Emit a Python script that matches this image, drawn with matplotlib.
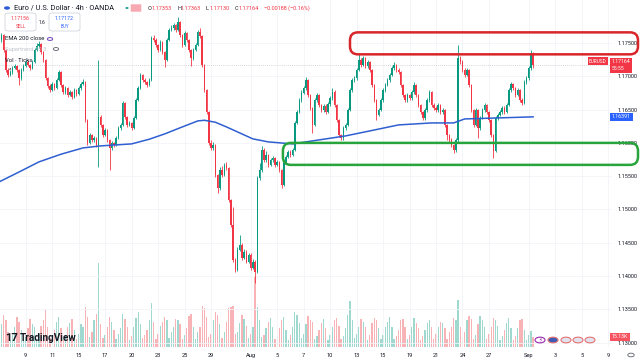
import numpy as np
import matplotlib.pyplot as plt
from matplotlib.patches import FancyBboxPatch, Circle
from matplotlib.transforms import blended_transform_factory, IdentityTransform

plt.rcParams['font.family'] = ['Roboto', 'DejaVu Sans']

# EURUSD 4h candles, prices in points: price = 1 + value / 100000
first_open = 17500
close_pts = [
    17545, 17620, 17395, 17095, 17020, 17065, 17125, 17155, 17095, 16975,
    17095, 17155, 17215, 17170, 17125, 17215, 17395, 17455, 17485, 17365,
    17245, 16975, 16855, 16795, 16885, 16825, 16945, 17065, 16870, 16765,
    16825, 16720, 16765, 16690, 16795, 16735, 16825, 16885, 16915, 16345,
    16000, 16120, 16045, 16075, 15970, 16390, 16270, 16120, 16195, 16045,
    15925, 16000, 15970, 16075, 16225, 16270, 16600, 16390, 16270, 16300,
    16225, 16375, 16645, 16825, 17020, 16945, 16915, 16870, 16945, 17575,
    17545, 17470, 17395, 17515, 17365, 17245, 17545, 17695, 17725, 17770,
    17695, 17815, 17620, 17470, 17650, 17545, 17395, 17275, 17395, 17470,
    17665, 17605, 17170, 16795, 16465, 16000, 15925, 15970, 15520, 15325,
    15595, 15520, 15670, 15625, 15145, 14770, 14245, 14095, 14395, 14470,
    14275, 14365, 14215, 14320, 14125, 14215, 14065, 15475, 15595, 15895,
    15745, 15820, 15670, 15745, 15775, 15670, 15715, 15595, 15370, 15715,
    15790, 15865, 15820, 15895, 16300, 16465, 16645, 16750, 16825, 16945,
    16720, 16525, 16270, 16645, 16720, 16570, 16495, 16555, 16465, 16585,
    16675, 16765, 16570, 16345, 16120, 16075, 16225, 16270, 16495, 16795,
    16945, 16975, 17095, 17245, 17170, 17275, 17155, 17215, 17095, 16870,
    16645, 16420, 16495, 16645, 16795, 16870, 16945, 17020, 17125, 17170,
    17095, 17065, 16870, 16720, 16645, 16720, 16675, 16765, 16870, 16720,
    16570, 16465, 16375, 16495, 16645, 16765, 16570, 16525, 16495, 16570,
    16465, 16495, 16270, 16120, 16045, 15970, 15895, 16045, 17275, 17215,
    17095, 17020, 17095, 16870, 16495, 16270, 16495, 16225, 16375, 16495,
    16570, 16465, 16345, 16120, 15880, 16375, 16420, 16465, 16525, 16465,
    16570, 16795, 16885, 16825, 16720, 16795, 16645, 16600, 16915, 16975,
    17125, 17353, 17164]
high_pts = [
    17580, 17650, 17640, 17410, 17120, 17100, 17150, 17190, 17170, 17110,
    17120, 17180, 17250, 17240, 17190, 17240, 17420, 17500, 17530, 17500,
    17380, 17260, 16990, 16880, 16920, 16900, 16970, 17100, 17080, 16890,
    16850, 16840, 16800, 16780, 16820, 16810, 16850, 16910, 16960, 16930,
    16360, 16150, 16140, 16110, 16090, 17245, 16420, 16290, 16230, 16210,
    16060, 16030, 16020, 16100, 16250, 16300, 16630, 16620, 16410, 16330,
    16320, 16400, 16670, 16850, 17050, 17040, 16970, 16930, 16970, 17600,
    17620, 17570, 17490, 17540, 17530, 17380, 17570, 17720, 17770, 17800,
    17790, 17890, 17830, 17640, 17680, 17670, 17560, 17410, 17420, 17500,
    17700, 17720, 17620, 17190, 16810, 16480, 16040, 16010, 15990, 15540,
    15640, 15660, 15700, 15720, 15640, 15160, 15040, 14270, 14430, 14620,
    14490, 14400, 14390, 14350, 14340, 14250, 14240, 15500, 15700, 15960,
    15920, 15880, 15840, 15780, 15810, 15790, 15750, 15730, 15610, 15740,
    15820, 15890, 15890, 15920, 16330, 16500, 16680, 16790, 16860, 16990,
    16960, 16740, 16540, 16670, 16750, 16740, 16590, 16590, 16580, 16610,
    16710, 16830, 16790, 16590, 16360, 16140, 16250, 16300, 16520, 16820,
    16980, 17010, 17130, 17350, 17270, 17310, 17290, 17250, 17230, 17110,
    16890, 16660, 16530, 16670, 16820, 16900, 16970, 17050, 17150, 17215,
    17190, 17120, 17080, 16890, 16740, 16750, 16740, 16800, 16915, 16890,
    16740, 16590, 16480, 16520, 16680, 16800, 16780, 16600, 16550, 16600,
    16590, 16530, 16510, 16290, 16140, 16070, 15990, 16080, 17470, 17300,
    17240, 17120, 17130, 17110, 16890, 16510, 16520, 16510, 16400, 16530,
    16600, 16590, 16480, 16360, 16140, 16400, 16450, 16500, 16560, 16550,
    16600, 16830, 16920, 16900, 16840, 16830, 16810, 16670, 16940, 17010,
    17160, 17395, 17363]
low_pts = [
    17470, 17520, 17370, 17060, 16990, 17000, 17040, 17110, 17070, 16870,
    16950, 17080, 17140, 17150, 17100, 17110, 17200, 17380, 17430, 17340,
    17220, 16950, 16820, 16760, 16780, 16790, 16810, 16930, 16840, 16730,
    16740, 16690, 16700, 16660, 16670, 16710, 16720, 16800, 16870, 16320,
    15970, 15980, 16010, 16020, 15940, 15640, 16240, 16090, 16100, 16010,
    15595, 15900, 15940, 15950, 16060, 16200, 16250, 16360, 16240, 16250,
    16200, 16210, 16360, 16630, 16810, 16920, 16880, 16840, 16850, 16930,
    17510, 17440, 17360, 17380, 17330, 17140, 17230, 17530, 17680, 17700,
    17670, 17680, 17590, 17440, 17450, 17510, 17370, 17150, 17250, 17380,
    17450, 17580, 17140, 16760, 16430, 15970, 15890, 15900, 15490, 15250,
    15300, 15490, 15500, 15590, 15110, 14740, 14210, 14060, 14080, 14370,
    14240, 14250, 14190, 14200, 14090, 14100, 13900, 14040, 15450, 15570,
    15720, 15720, 15640, 15650, 15720, 15640, 15650, 15560, 15325, 15350,
    15700, 15770, 15790, 15800, 15880, 16280, 16450, 16620, 16730, 16800,
    16690, 16490, 16150, 16250, 16620, 16540, 16460, 16470, 16430, 16450,
    16560, 16650, 16540, 16310, 16090, 16045, 16050, 16200, 16250, 16480,
    16770, 16920, 16950, 17080, 17140, 17150, 17130, 17130, 17070, 16840,
    16610, 16345, 16400, 16480, 16620, 16770, 16850, 16920, 17000, 17100,
    17070, 17040, 16840, 16690, 16610, 16620, 16650, 16650, 16740, 16690,
    16540, 16430, 16345, 16350, 16470, 16620, 16540, 16500, 16470, 16470,
    16440, 16440, 16240, 16045, 16010, 15940, 15850, 15870, 16020, 17180,
    17060, 16990, 17000, 16840, 16460, 16240, 16250, 16075, 16200, 16360,
    16470, 16440, 16320, 16090, 15775, 15860, 16350, 16400, 16440, 16440,
    16450, 16550, 16770, 16800, 16690, 16700, 16610, 16570, 16580, 16890,
    16950, 17100, 17130]
# tick volume in thousands
volume_k = [
    20, 35, 48, 40, 22, 10, 18, 30, 45, 38, 25, 12,
    15, 28, 42, 35, 30, 12, 20, 32, 40, 55, 30, 14,
    16, 26, 38, 45, 28, 10, 18, 30, 36, 42, 25, 12,
    20, 35, 30, 60, 45, 15, 22, 40, 50, 126, 35, 14,
    18, 30, 45, 38, 26, 12, 20, 28, 50, 42, 30, 10,
    16, 30, 44, 52, 35, 14, 18, 26, 40, 66, 38, 12,
    20, 32, 38, 45, 40, 14, 22, 30, 42, 40, 34, 12,
    18, 28, 46, 50, 30, 12, 22, 30, 62, 58, 45, 15,
    20, 40, 52, 48, 35, 14, 22, 38, 58, 60, 62, 20,
    22, 36, 48, 42, 32, 14, 20, 30, 105, 60, 40, 15,
    18, 28, 38, 44, 30, 12, 16, 28, 40, 45, 26, 10,
    18, 30, 52, 48, 36, 14, 20, 34, 46, 40, 38, 12,
    16, 26, 36, 42, 28, 10, 18, 30, 40, 44, 32, 12,
    16, 28, 48, 69, 40, 14, 20, 30, 42, 38, 30, 10,
    18, 36, 44, 40, 28, 12, 18, 30, 38, 45, 30, 12,
    16, 26, 40, 42, 30, 12, 18, 30, 44, 36, 28, 10,
    16, 26, 36, 40, 30, 12, 20, 30, 38, 36, 28, 12,
    22, 30, 44, 40, 70, 30, 14, 22, 40, 46, 42, 12,
    18, 34, 46, 40, 30, 12, 20, 30, 44, 40, 32, 10,
    16, 26, 36, 44, 28, 10, 16, 28, 40, 42, 26, 10,
    18, 24, 15.13]
# EMA 200 read at a few candles
ema_idx = [0, 10, 18, 28, 38, 46, 60, 68, 75, 83, 90, 93, 98, 103, 109,
           115, 122, 133, 145, 157, 168, 181, 196, 206, 211, 226, 242]
ema_pts = [15415, 15580, 15715, 15830, 15925, 15955, 15985, 16055, 16135,
           16240, 16330, 16340, 16310, 16240, 16150, 16060, 16015, 15985,
           16045, 16105, 16180, 16270, 16300, 16300, 16360, 16375, 16391]

date_idx = [12, 24, 36, 48, 60, 72, 84, 96, 114, 126, 138, 150, 162, 174,
            186, 198, 210, 222, 240, 252, 264, 276]
date_labels = ['9', '11', '15', '17', '20', '23', '25', '29', 'Aug', '5', '7',
               '10', '13', '15', '19', '21', '24', '27', 'Sep', '3', '5', '9']
price_ticks = [1.130, 1.135, 1.140, 1.145, 1.150, 1.155, 1.160, 1.165,
               1.170, 1.175]
red_zone = (1.17330, 1.17660, 159)
green_zone = (1.15670, 1.16000, 128.6)

UP = '#089981'
DOWN = '#f23645'


def to_price(v):
    return 1 + np.asarray(v, dtype=float) / 1e5


close = to_price(close_pts)
high = to_price(high_pts)
low = to_price(low_pts)
opn = np.concatenate([[to_price(first_open)], close[:-1]])
idx = np.arange(len(close))
up = close >= opn
colors = np.where(up, UP, DOWN)

W, H = 640, 364
fig = plt.figure(figsize=(W / 100, H / 100), dpi=100)
fig.patch.set_facecolor('white')
rect = [0, 17 / H, 612 / W, 347 / H]
vax = fig.add_axes(rect)
ax = fig.add_axes(rect)
ax.patch.set_alpha(0)

xlim = (0.35, 0.35 + 612 / 2.206)
for a in (vax, ax):
    a.set_xlim(*xlim)
    for s in a.spines.values():
        s.set_visible(False)

# volume
vax.bar(idx, volume_k, width=0.6, color=np.where(up, '#9fd8cf', '#f7b3b6'),
        linewidth=0)
vax.set_ylim(0, 520)
vax.set_yticks([])
vax.set_xticks(date_idx)
vax.tick_params(axis='x', length=0, labelbottom=False)
vax.grid(axis='x', color='#f3f4f7', lw=0.6)

# candles
ax.set_ylim(1.12935, 1.18146)
ax.vlines(idx, low, high, colors=colors, lw=0.6, zorder=3)
body = np.maximum(np.abs(close - opn), 0.00003)
ax.bar(idx, body, bottom=np.minimum(opn, close), width=0.66, color=colors,
       linewidth=0, zorder=4)
ax.plot(ema_idx, to_price(ema_pts), color='#2f5fd0', lw=1.1, zorder=5,
        solid_joinstyle='round')
ax.axhline(close[-1], color='#c9c9cc', lw=0.6, ls=(0, (1, 1.5)), zorder=2)

ax.set_yticks(price_ticks)
ax.set_yticklabels(['%.5f' % p for p in price_ticks])
ax.yaxis.tick_right()
ax.tick_params(axis='y', length=0, pad=4, labelsize=4.0, labelcolor='#131722')
ax.grid(axis='y', color='#f3f4f7', lw=0.6)
ax.set_xticks(date_idx)
ax.set_xticklabels(date_labels)
ax.tick_params(axis='x', length=0, pad=4, labelsize=4.1, labelcolor='#131722')

fig.canvas.draw()


# hand-drawn style zones
def zone(z, color):
    lo, hi, left = z
    x0, y0 = ax.transData.transform((left, lo))
    _, y1 = ax.transData.transform((left, hi))
    p = FancyBboxPatch((x0, y0), 638 - x0, y1 - y0,
                       boxstyle='round,pad=0,rounding_size=8',
                       transform=IdentityTransform(), fill=False, ec=color,
                       lw=1.8, zorder=20)
    fig.add_artist(p)


zone(red_zone, '#d9262b')
zone(green_zone, '#27a53c')

# right-side value tags
bt = blended_transform_factory(fig.transFigure, ax.transData)
ax.text(611.5 / W, close[-1], '1.17164\n55:55', transform=bt, ha='left',
        va='center', fontsize=3.7, color='white', linespacing=1.5,
        bbox=dict(boxstyle='square,pad=0.35', fc=DOWN, ec='none'), zorder=30)
ax.text(589 / W, close[-1] + 0.0006, 'EURUSD', transform=bt, ha='left',
        va='center', fontsize=3.4, color='white',
        bbox=dict(boxstyle='square,pad=0.3', fc=DOWN, ec='none'), zorder=30)
ax.text(612 / W, ema_pts[-1] / 1e5 + 1, '1.16391', transform=bt, ha='left',
        va='center', fontsize=3.8, color='white',
        bbox=dict(boxstyle='square,pad=0.35', fc='#2962ff', ec='none'),
        zorder=30)
vt = blended_transform_factory(fig.transFigure, vax.transData)
vax.text(612 / W, volume_k[-1], '15.13K', transform=vt, ha='left',
         va='center', fontsize=3.8, color='white',
         bbox=dict(boxstyle='square,pad=0.35', fc='#f7525f', ec='none'),
         zorder=30)


def ftext(x, y, s, **kw):
    return fig.text(x / W, 1 - y / H, s, va='center', **kw)


# header legend
fig.add_artist(Circle((7 / W, 1 - 8 / H), 3 / W, transform=fig.transFigure,
                      fc='#2b5bd7', ec='none'))
ftext(14, 8, 'Euro / U.S. Dollar · 4h · OANDA', fontsize=5.3,
      color='#131722')
fig.add_artist(Circle((127 / W, 1 - 8 / H), 1.6 / W,
                      transform=fig.transFigure, fc=UP, ec='none'))
fig.add_artist(FancyBboxPatch((132 / W, 1 - 11 / H), 8 / W, 6 / H,
                              boxstyle='round,pad=0.002',
                              transform=fig.transFigure, fc='#f7a9b2',
                              ec='none'))
x = 148
for lab, val in [('O', '1.17353'), ('H', '1.17363'), ('L', '1.17130'),
                 ('C', '1.17164')]:
    ftext(x, 8, lab, fontsize=4.0, color='#131722')
    ftext(x + 3.6, 8, val, fontsize=4.0, color=DOWN)
    x += 29
ftext(x, 8, '−0.00188 (−0.16%)', fontsize=4.0, color=DOWN)

for bx, c, price, lab in [(5, DOWN, '1.17156', 'SELL'),
                          (49, '#2962ff', '1.17172', 'BUY')]:
    fig.add_artist(FancyBboxPatch((bx / W, 1 - 31 / H), 31 / W, 18 / H,
                                  boxstyle='round,pad=0,rounding_size=0.006',
                                  transform=fig.transFigure, fc='white',
                                  ec='#c9ccd4', lw=0.5))
    ftext(bx + 15.5, 18.5, price, fontsize=3.8, color=c, ha='center')
    ftext(bx + 15.5, 26.5, lab, fontsize=3.3, color=c, ha='center')
ftext(42.5, 22, '1.6', fontsize=3.5, color='#131722', ha='center')

ftext(5, 39, 'EMA 200 close', fontsize=4.2, color='#131722')
fig.add_artist(Circle((50 / W, 1 - 39 / H), 2.6 / W,
                      transform=fig.transFigure, fc='white', ec='#7e57c2',
                      lw=0.8))
ftext(5, 49, 'Supertrend 10 3', fontsize=4.2, color='#c3c6ce')
fig.add_artist(Circle((56 / W, 1 - 49 / H), 2.6 / W,
                      transform=fig.transFigure, fc='white', ec='#5d606b',
                      lw=0.6))
ftext(5, 60, 'Vol · Ticks', fontsize=4.2, color='#131722')
ftext(10, 71, '^', fontsize=4.2, color='#131722', ha='center')

# bottom logo and event icons
ftext(5, 338, '17', fontsize=8, color='#131722', fontweight='bold')
ftext(20, 338, 'TradingView', fontsize=7.2, color='#131722',
      fontweight='bold')
for ex, fc, ec in [(540, 'white', '#9c27b0'), (553, '#3d5ab4', '#e57373'),
                   (566, '#e0e4ee', '#e57373'), (578, '#e0e4ee', '#e57373'),
                   (590, '#e0e4ee', '#e57373')]:
    fig.add_artist(Circle((ex / W, 1 - 340 / H), 5 / W,
                          transform=fig.transFigure, fc=fc, ec=ec, lw=0.8))
ftext(540, 340, '⚡', fontsize=4, color='#9c27b0', ha='center',
      family=['DejaVu Sans'])
fig.add_artist(Circle((631 / W, 1 - 355 / H), 3.2 / W,
                      transform=fig.transFigure, fc='white', ec='#5d606b',
                      lw=0.6))

fig.savefig('out.png', dpi=100)
